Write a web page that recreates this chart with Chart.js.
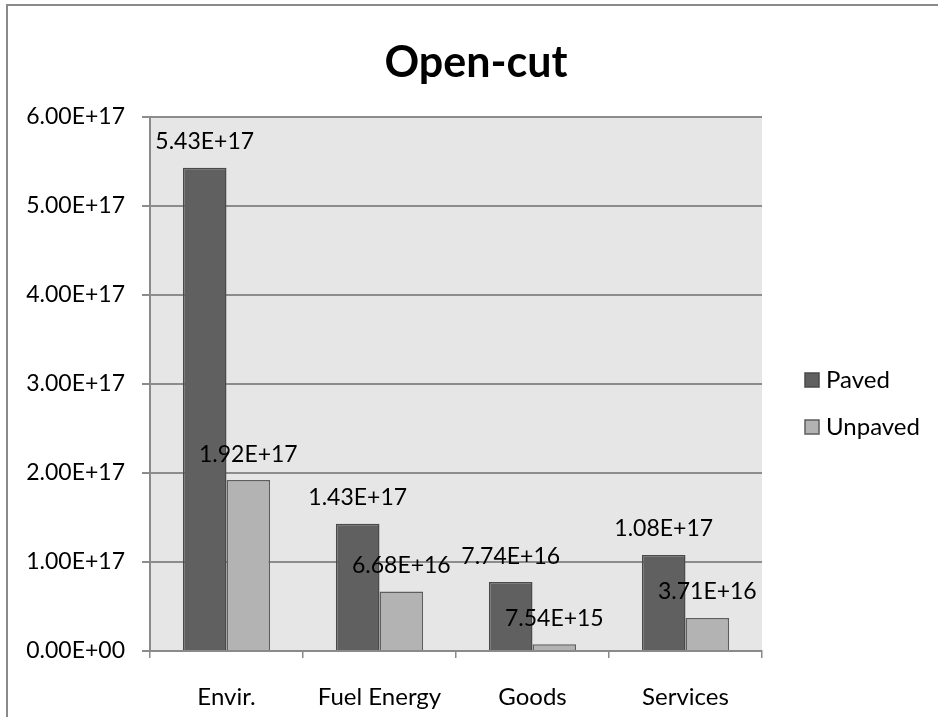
<!DOCTYPE html>
<html>
<head>
<meta charset="utf-8">
<script src="https://cdn.jsdelivr.net/npm/chart.js@4"></script>
<style>
  html, body { margin: 0; padding: 0; background: #fff; }
  #wrap { width: 938px; height: 717px; position: relative; }
</style>
</head>
<body>
<div id="wrap"><canvas id="chart" width="938" height="717"></canvas></div>
<script>
// Datos del gráfico
const titulo = 'Open-cut';
const categorias = ['Envir.', 'Fuel Energy', 'Goods', 'Services'];
const paved = [5.43e17, 1.43e17, 7.74e16, 1.08e17];
const unpaved = [1.92e17, 6.68e16, 7.54e15, 3.71e16];
const yMin = 0;
const yMax = 6e17;
const yStep = 1e17;

const FONT = 'Lato';

// Formato tipo Excel: 5.43E+17, 0.00E+00
function formatoExp(v) {
    const s = Number(v).toExponential(2);
    const [mant, exp] = s.split('e');
    const signo = exp[0] === '-' ? '-' : '+';
    let digitos = exp.replace(/^[+-]/, '');
    if (digitos.length < 2) digitos = '0' + digitos;
    return mant + 'E' + signo + digitos;
}

// Fondo del área de trazado, marco exterior y título
const fondoPlugin = {
    id: 'fondo',
    beforeDraw(chart) {
        const { ctx, chartArea } = chart;
        ctx.save();
        ctx.fillStyle = '#ffffff';
        ctx.fillRect(0, 0, chart.width, chart.height);
        ctx.strokeStyle = '#8a8a8a';
        ctx.lineWidth = 2;
        ctx.beginPath();
        ctx.moveTo(7, chart.height);
        ctx.lineTo(7, 5);
        ctx.lineTo(chart.width, 5);
        ctx.stroke();
        ctx.fillStyle = '#e6e6e6';
        ctx.fillRect(chartArea.left, chartArea.top,
            chartArea.right - chartArea.left, chartArea.bottom - chartArea.top);
        // título centrado sobre todo el gráfico
        ctx.font = 'bold 43px ' + FONT;
        ctx.fillStyle = '#000';
        ctx.textAlign = 'center';
        ctx.textBaseline = 'alphabetic';
        ctx.fillText(titulo, 476, 77);
        ctx.restore();
    }
};

// Etiquetas de datos encima de cada barra
const etiquetasPlugin = {
    id: 'etiquetas',
    afterDatasetsDraw(chart) {
        const { ctx } = chart;
        ctx.save();
        ctx.font = '23px ' + FONT;
        ctx.fillStyle = '#000';
        ctx.textAlign = 'center';
        ctx.textBaseline = 'middle';
        chart.data.datasets.forEach((ds, i) => {
            chart.getDatasetMeta(i).data.forEach((bar, j) => {
                ctx.fillText(formatoExp(ds.data[j]), bar.x, bar.y - 26);
            });
        });
        ctx.restore();
    }
};

// Leyenda a la derecha
const leyendaPlugin = {
    id: 'leyenda',
    afterDraw(chart) {
        const { ctx } = chart;
        ctx.save();
        ctx.font = '24px ' + FONT;
        ctx.textAlign = 'left';
        ctx.textBaseline = 'middle';
        chart.data.datasets.forEach((ds, i) => {
            const y = 380 + i * 47;
            ctx.fillStyle = ds.backgroundColor;
            ctx.fillRect(805, y - 7, 14, 14);
            ctx.strokeStyle = ds.borderColor;
            ctx.lineWidth = 1.5;
            ctx.strokeRect(805, y - 7, 14, 14);
            ctx.fillStyle = '#000';
            ctx.fillText(ds.label, 826, y);
        });
        ctx.restore();
    }
};

new Chart(document.getElementById('chart').getContext('2d'), {
    type: 'bar',
    data: {
        labels: categorias,
        datasets: [{
            label: 'Paved',
            data: paved,
            backgroundColor: '#606060',
            borderColor: '#4a4a4a',
            borderWidth: 1.5
        }, {
            label: 'Unpaved',
            data: unpaved,
            backgroundColor: '#b3b3b3',
            borderColor: '#5e5e5e',
            borderWidth: 1.5
        }]
    },
    options: {
        responsive: false,
        animation: false,
        layout: { padding: { top: 117, right: 176, bottom: 0, left: 0 } },
        datasets: {
            bar: { categoryPercentage: 0.57, barPercentage: 1 }
        },
        plugins: {
            legend: { display: false },
            tooltip: { enabled: false },
            title: { display: false }
        },
        scales: {
            x: {
                afterFit(scale) { scale.height = 66; },
                grid: {
                    offset: true,
                    drawOnChartArea: false,
                    tickLength: 7,
                    color: '#8a8a8a',
                    lineWidth: 1.5
                },
                border: { color: '#8a8a8a', width: 2 },
                ticks: {
                    color: '#000',
                    font: { family: FONT, size: 24 },
                    padding: 25,
                    maxRotation: 0
                }
            },
            y: {
                min: yMin,
                max: yMax,
                afterFit(scale) { scale.width = 150; },
                grid: {
                    color: '#8c8c8c',
                    lineWidth: 2,
                    tickLength: 8
                },
                border: { color: '#8a8a8a', width: 2 },
                ticks: {
                    stepSize: yStep,
                    color: '#000',
                    font: { family: FONT, size: 23 },
                    padding: 17,
                    callback: (v) => formatoExp(v)
                }
            }
        }
    },
    plugins: [fondoPlugin, etiquetasPlugin, leyendaPlugin]
});
</script>
</body>
</html>
